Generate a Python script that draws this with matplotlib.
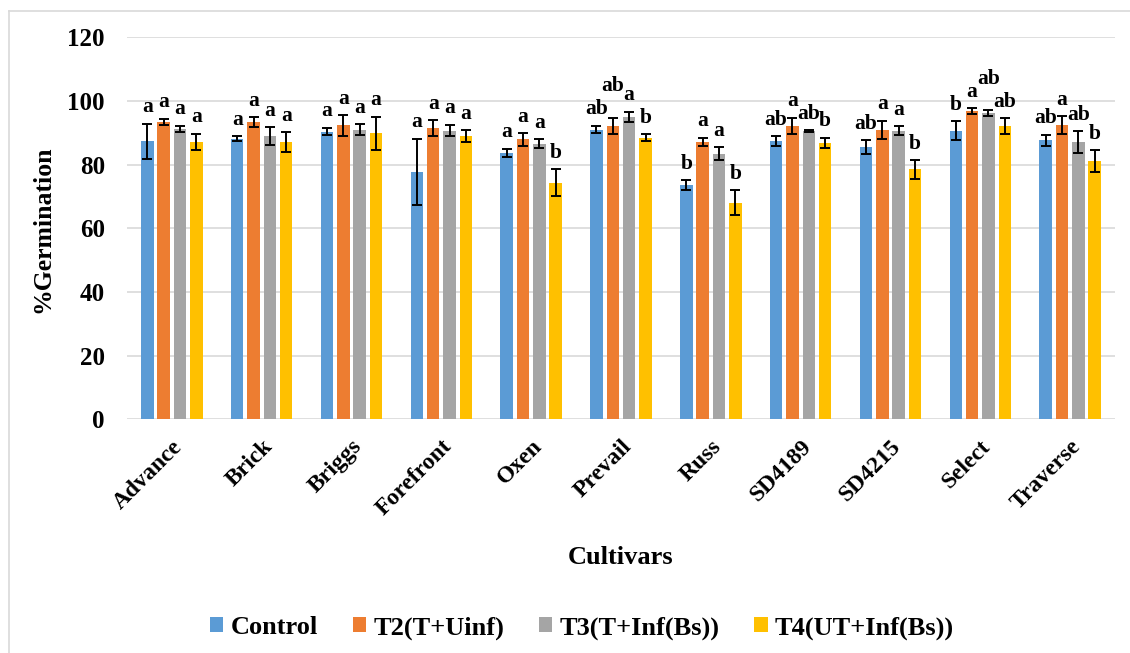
import matplotlib
matplotlib.use("Agg")
import matplotlib.pyplot as plt
from matplotlib.lines import Line2D
from matplotlib.patches import Patch
import numpy as np

# Germination data per cultivar (mean and error) for each treatment
cultivars = ["Advance", "Brick", "Briggs", "Forefront", "Oxen", "Prevail",
             "Russ", "SD4189", "SD4215", "Select", "Traverse"]
series_names = ["Control", "T2(T+Uinf)", "T3(T+Inf(Bs))", "T4(UT+Inf(Bs))"]

control = [87.4, 88.2, 90.4, 77.7, 83.7, 91.0, 73.6, 87.4, 85.5, 90.7, 87.7]
control_err = [5.5, 0.7, 1.2, 10.5, 1.3, 1.2, 1.6, 1.5, 2.2, 3.0, 1.7]
t2 = [93.4, 93.3, 92.3, 91.4, 87.9, 92.1, 87.1, 92.1, 91.0, 96.8, 92.4]
t2_err = [1.0, 1.6, 3.3, 2.5, 1.9, 2.4, 1.4, 2.6, 2.8, 0.9, 2.8]
t3 = [91.2, 89.0, 91.0, 90.7, 86.6, 95.0, 83.4, 90.5, 90.7, 96.3, 87.1]
t3_err = [1.0, 2.8, 1.7, 1.8, 1.3, 1.6, 2.0, 0.3, 1.3, 0.9, 3.5]
t4 = [87.1, 87.1, 89.9, 89.0, 74.3, 88.4, 68.1, 86.9, 78.5, 92.1, 81.1]
t4_err = [2.6, 3.0, 5.2, 1.9, 4.2, 1.1, 3.9, 1.6, 2.9, 2.5, 3.5]

# Significance letters
control_sig = ["a", "a", "a", "a", "a", "ab", "b", "ab", "ab", "b", "ab"]
t2_sig = ["a", "a", "a", "a", "a", "ab", "a", "a", "a", "a", "a"]
t3_sig = ["a", "a", "a", "a", "a", "a", "a", "ab", "a", "ab", "ab"]
t4_sig = ["a", "a", "a", "a", "b", "b", "b", "b", "b", "ab", "b"]

yticks = [0, 20, 40, 60, 80, 100, 120]

colors = ["#5B9BD5", "#ED7D31", "#A5A5A5", "#FFC000"]
FONT = ["Liberation Serif", "DejaVu Serif"]
plt.rcParams["font.family"] = FONT
plt.rcParams["font.weight"] = "bold"

W, H = 1130, 653
fig = plt.figure(figsize=(W / 100, H / 100), dpi=100)
ax = fig.add_axes([127 / W, 1 - 419.3 / H, (1115 - 127) / W, (419.3 - 37.3) / H])

means = [control, t2, t3, t4]
errs = [control_err, t2_err, t3_err, t4_err]
sigs = [control_sig, t2_sig, t3_sig, t4_sig]

x = np.arange(len(cultivars))
bw = 0.139
step = 0.182
labels = [[None] * 4 for _ in cultivars]
for i in range(4):
    off = (i - 1.5) * step
    ax.bar(x + off, means[i], width=bw, color=colors[i], zorder=3,
           label=series_names[i])
    ax.errorbar(x + off, means[i], yerr=errs[i], fmt="none", ecolor="black",
                elinewidth=1.4, capsize=3.4, capthick=1.4, zorder=4)
    for g, (xi, m, e, s) in enumerate(zip(x + off, means[i], errs[i], sigs[i])):
        labels[g][i] = ax.text(xi, m + e + 2.0, s, ha="center", va="bottom",
                               fontsize=15.5, fontweight="bold", zorder=5)

ax.set_xlim(-0.5, len(cultivars) - 0.5)
ax.set_ylim(0, 120)
ax.set_yticks(yticks)
ax.set_yticklabels([str(v) for v in yticks], fontsize=18, fontweight="bold")
ax.set_xticks(x)
ax.set_xticklabels(cultivars, rotation=45, ha="right", va="top",
                   rotation_mode="anchor", fontsize=17, fontweight="bold")
ax.tick_params(axis="both", length=0)
ax.tick_params(axis="y", pad=16)
ax.tick_params(axis="x", pad=12)
for sp in ax.spines.values():
    sp.set_visible(False)
ax.yaxis.grid(True, color="#d9d9d9", linewidth=1.2, zorder=0)
ax.set_axisbelow(True)

# where two neighbouring letters collide, lift the higher one above the other
fig.canvas.draw()
renderer = fig.canvas.get_renderer()
inv = ax.transData.inverted()
tol_x, tol_y = 3, 4
for group in labels:
    for j in range(1, 4):
        a, b = group[j - 1], group[j]
        ba = a.get_window_extent(renderer)
        bb = b.get_window_extent(renderer)
        if (ba.x1 - tol_x > bb.x0 and bb.x1 - tol_x > ba.x0
                and ba.y1 - tol_y > bb.y0 and bb.y1 - tol_y > ba.y0):
            upper, lower = (a, bb) if ba.y0 >= bb.y0 else (b, ba)
            upper.set_y(inv.transform((0, lower.y1 + 3))[1])

fig.text(43 / W, 1 - 229 / H, "%Germination", rotation=90, ha="center",
         va="center", fontsize=18.5, fontweight="bold")
fig.text(621 / W, 1 - 557 / H, "Cultivars", ha="center", va="center",
         fontsize=19, fontweight="bold")

handles = [Patch(facecolor=c, edgecolor="none") for c in colors]
fig.legend(handles, series_names, loc="center", ncol=4,
           bbox_to_anchor=(582 / W, 1 - 628 / H), frameon=False,
           prop={"family": FONT, "weight": "bold", "size": 19},
           handlelength=0.5, handleheight=0.5, handletextpad=0.27,
           columnspacing=1.33)

# chart-area frame (left and top edges)
fig.add_artist(Line2D([8.5 / W, 8.5 / W], [0, 1 - 11 / H], color="#d9d9d9",
                      linewidth=1.2, transform=fig.transFigure))
fig.add_artist(Line2D([8.5 / W, 1], [1 - 11 / H, 1 - 11 / H], color="#d9d9d9",
                      linewidth=1.2, transform=fig.transFigure))

fig.savefig("out.png", dpi=100)
